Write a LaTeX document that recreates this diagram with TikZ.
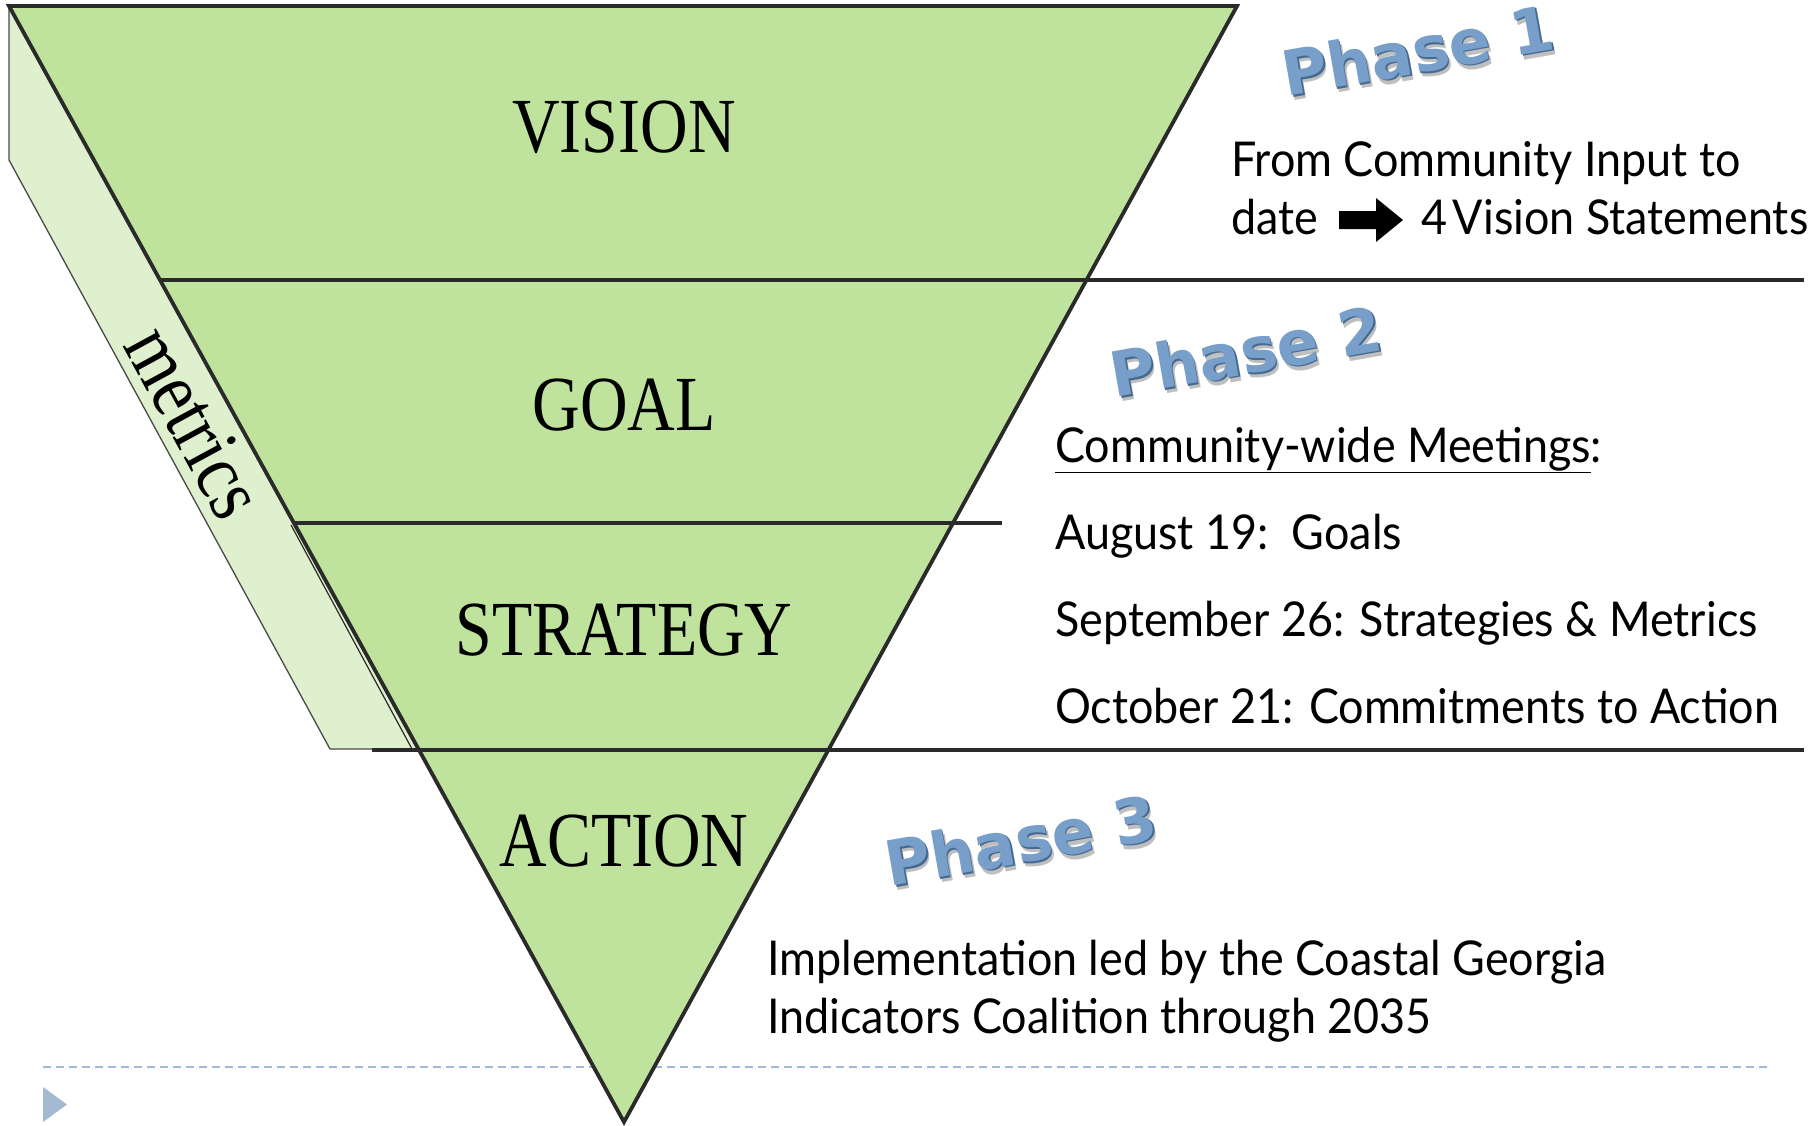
\documentclass[tikz,border=0pt]{standalone}
\usepackage{fontspec}
\setmainfont{Liberation Serif}
\newfontfamily\headfont[FakeStretch=0.845]{Liberation Serif}
\newfontfamily\bodyfont[FakeStretch=0.935]{Lato}
\newfontfamily\phasefont{DejaVu Sans}
\definecolor{trifill}{HTML}{BFE29C}
\definecolor{bandfill}{HTML}{DFF0CE}
\definecolor{edgecol}{HTML}{2A2A2A}
\definecolor{dashcol}{HTML}{A3BAD2}
\definecolor{phaseblue}{HTML}{779FCA}
\definecolor{phasedark}{HTML}{46698F}
\newcommand\mkphase[3]{%
  \node[phasestyle, text=black!45, opacity=.55] at ($(#1)+(3,5)$) {#3};
  \node[phasestyle, text=phasedark] at ($(#1)+(1.5,1.5)$) {#3};
  \node[phasestyle, text=phaseblue] (#2) at (#1) {#3};}
\usetikzlibrary{calc}
\begin{document}
\begin{tikzpicture}[x=1pt,y=-1pt,
  levellabel/.style={font=\headfont\fontsize{78}{80}\selectfont, inner sep=0pt},
  bodytext/.style={font=\bodyfont\fontsize{48}{58}\selectfont, anchor=base west, inner sep=0pt},
  phasestyle/.style={font=\phasefont\bfseries\fontsize{62}{66}\selectfont, inner sep=0pt, rotate=10},
  divider/.style={draw=edgecol, line width=3.5pt},
]
\useasboundingbox (0,0) rectangle (1813,1125);
\fill[white] (0,0) rectangle (1813,1125);

% dashed footer line and bullet
\coordinate (dl) at (43,1067);
\coordinate (dr) at (1769,1067);
\draw[dashcol, line width=2.4pt, dash pattern=on 8pt off 5pt] (dl) -- (dr);
\fill[dashcol] (43,1087) -- (67,1104.5) -- (43,1122) -- cycle;

% triangle corners
\coordinate (TL) at (9,6);
\coordinate (TR) at (1237,6);
\coordinate (B) at (624,1122);
% metrics band
\coordinate (b1) at (9,160);
\coordinate (b2) at (330,749);
\coordinate (b3) at (418,749);
\filldraw[fill=bandfill, draw=edgecol!85, line width=1.3pt] (TL) -- (b1) -- (b2) -- (b3) -- cycle;
\filldraw[fill=trifill, draw=edgecol, line width=3.8pt, line join=miter] (TL) -- (TR) -- (B) -- cycle;

% dividers
\coordinate (d1l) at (160,280);
\coordinate (d1r) at (1804,280);
\coordinate (d2l) at (294,523);
\coordinate (d2r) at (1002,523);
\coordinate (d3l) at (372,750);
\coordinate (d3r) at (1804,750);
\draw[divider] (d1l) -- (d1r);
\draw[divider] (d2l) -- (d2r);
\draw[divider] (d3l) -- (d3r);
\coordinate (s1) at (291,525);
\coordinate (s2) at (412,749);
\draw[edgecol, line width=1.2pt] (s1) -- (s2);

% level labels
\node[levellabel] (vision) at (624,127) {VISION};
\node[levellabel] (goal) at (624,405) {GOAL};
\node[levellabel] (strategy) at (624,630) {STRATEGY};
\node[levellabel] (action) at (624,841) {ACTION};
\node[font=\headfont\fontsize{82}{84}\selectfont, inner sep=0pt, rotate=-61.5] (metrics) at (195,422) {metrics};

% phase labels
\mkphase{1418,50}{p1}{Phase 1}
\mkphase{1246,351}{p2}{Phase 2}
\mkphase{1021,840}{p3}{Phase 3}

% phase 1 text
\node[bodytext] (t1a) at (1231,176) {From Community Input to};
\node[bodytext] (t1b) at (1231,234) {date};
\node[bodytext] (t1c) at (1421,234) {4\hspace{0.12em}Vision Statements};
\fill[black] (1339,211) -- (1376,211) -- (1376,198) -- (1403,220) -- (1376,242) -- (1376,229) -- (1339,229) -- cycle;

% phase 2 text
\node[bodytext] (t2a) at (1055,462) {\underline{Community-wide Meetings}:};
\node[bodytext] (t2b) at (1055,549) {August 19:\ \ Goals};
\node[bodytext] (t2c) at (1055,636) {September 26: Strategies \& Metrics};
\node[bodytext] (t2d) at (1055,723) {October 21: Commitments to Action};

% phase 3 text
\node[bodytext] (t3a) at (767,975) {Implementation led by the Coastal Georgia};
\node[bodytext] (t3b) at (767,1033) {Indicators Coalition through 2035};
\end{tikzpicture}
\end{document}
